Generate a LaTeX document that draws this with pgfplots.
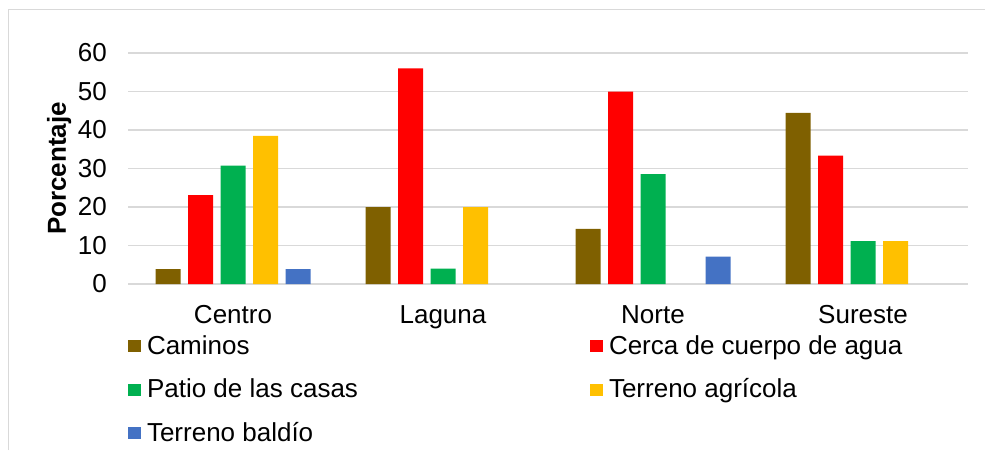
\documentclass[border=0pt]{standalone}
\usepackage{fontspec}
\setmainfont{Liberation Sans}
\usepackage{pgfplots}
\pgfplotsset{compat=1.18}

\definecolor{cCaminos}{HTML}{7F6000}
\definecolor{cCerca}{HTML}{FF0000}
\definecolor{cPatio}{HTML}{00B050}
\definecolor{cAgricola}{HTML}{FFC000}
\definecolor{cBaldio}{HTML}{4472C4}
\definecolor{gridgray}{HTML}{D9D9D9}

\newcommand{\chartfont}{\fontsize{26}{31}\selectfont}

\begin{document}
\begin{tikzpicture}
\useasboundingbox (0,0) rectangle (985pt,450pt);
% chart frame (partly cut by the page edge)
\draw[gridgray, line width=1pt] (8.5pt,0) -- (8.5pt,440pt) -- (985pt,440pt);

\begin{axis}[
  at={(128pt,166pt)}, anchor=south west,
  scale only axis,
  width=840pt, height=231pt,
  ybar=7.5pt, bar width=25pt,
  xmin=-0.5, xmax=3.5,
  ymin=0, ymax=60,
  enlargelimits=false,
  xtick={0,1,2,3},
  xticklabels={Centro,Laguna,Norte,Sureste},
  ytick={0,10,...,60},
  axis line style={draw=none},
  major tick length=0pt,
  ymajorgrids,
  grid style={gridgray, line width=1.2pt},
  tick label style={font=\chartfont},
  /pgf/number format/assume math mode=true,
  xticklabel style={anchor=base, inner sep=0pt, yshift=-39pt},
  yticklabel style={anchor=east, inner sep=0pt, xshift=-21pt},
  ylabel={\textbf{Porcentaje}},
  every axis y label/.style={at={(axis description cs:-0.0821,0.5)}, anchor=center, rotate=90, font=\chartfont},
  legend columns=2,
  legend cell align=left,
  legend style={
    at={(axis description cs:0,0)}, anchor=north west, yshift=-51pt,
    draw=none, fill=none, inner sep=0pt, outer sep=0pt,
    font=\chartfont,
    nodes={inner sep=0pt, text height=19pt, text depth=5pt},
    row sep=19.5pt,
    /tikz/every odd column/.style={column sep=6pt},
    /tikz/every even column/.style={column sep=232pt},
  },
  area legend,
  legend image code/.code={\fill[#1, draw=none] (0pt,-5pt) rectangle (13pt,7pt);},
  every axis plot/.append style={draw=none},
  % empty categories get no bar at all
  unbounded coords=discard,
  y filter/.expression={y==0 ? nan : y},
]
% Caminos
\addplot[fill=cCaminos] coordinates {(0,3.85) (1,20) (2,14.29) (3,44.44)};
% Cerca de cuerpo de agua
\addplot[fill=cCerca] coordinates {(0,23.08) (1,56) (2,50) (3,33.33)};
% Patio de las casas
\addplot[fill=cPatio] coordinates {(0,30.77) (1,4) (2,28.57) (3,11.11)};
% Terreno agrícola
\addplot[fill=cAgricola] coordinates {(0,38.46) (1,20) (2,0) (3,11.11)};
% Terreno baldío
\addplot[fill=cBaldio] coordinates {(0,3.85) (1,0) (2,7.14) (3,0)};
\legend{Caminos, Cerca de cuerpo de agua, Patio de las casas, Terreno agrícola, Terreno baldío}
\end{axis}
\end{tikzpicture}
\end{document}
